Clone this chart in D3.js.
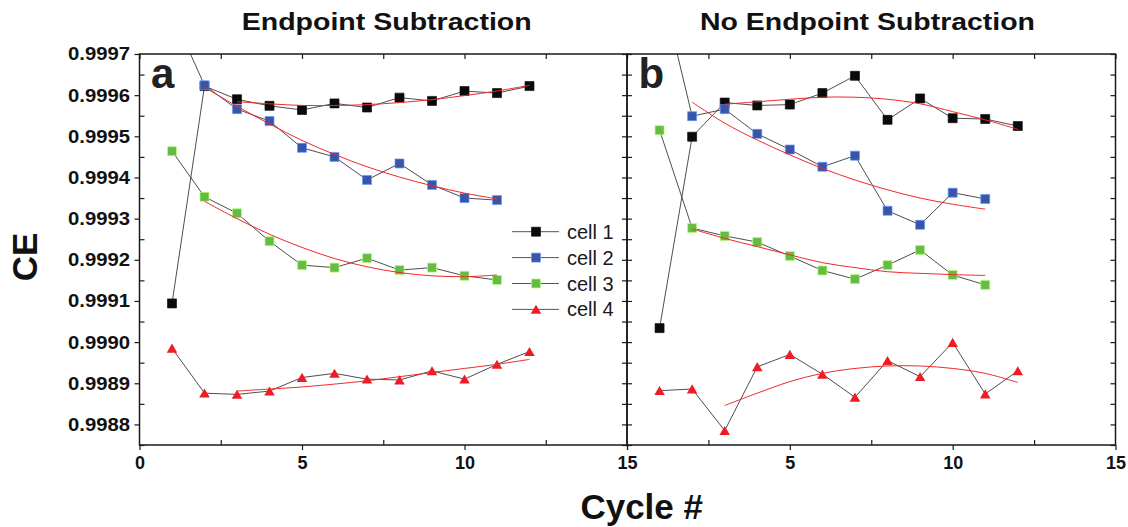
<!DOCTYPE html>
<html>
<head>
<meta charset="utf-8">
<script src="https://cdn.jsdelivr.net/npm/d3@7"></script>
<style>
  html, body { margin: 0; padding: 0; background: #fff; }
  svg { display: block; font-family: "Liberation Sans", Arial, Helvetica, sans-serif; }
</style>
</head>
<body>
<svg id="chart" width="1128" height="527"></svg>
<script>
// ---- data -------------------------------------------------------------
const cycles = [1, 2, 3, 4, 5, 6, 7, 8, 9, 10, 11, 12];
const seriesNames = ["cell 1", "cell 2", "cell 3", "cell 4"];
const panelTitles = ["Endpoint Subtraction", "No Endpoint Subtraction"];
const panelTags = ["a", "b"];
const xMajorTicks = [0, 5, 10, 15];
const xMinorTicks = [2.5, 7.5, 12.5];
const yMajorTicks = [0.9988, 0.9989, 0.9990, 0.9991, 0.9992, 0.9993, 0.9994, 0.9995, 0.9996, 0.9997];
const yMinorTicks = [0.99875, 0.99885, 0.99895, 0.99905, 0.99915, 0.99925, 0.99935, 0.99945, 0.99955, 0.99965];
const yTickLabels = ["0.9988", "0.9989", "0.9990", "0.9991", "0.9992", "0.9993", "0.9994", "0.9995", "0.9996", "0.9997"];

// CE per cycle, endpoint subtraction
const subCell1 = [0.999094, 0.999622, 0.999590, 0.999574, 0.999564, 0.999580, 0.999570, 0.999594, 0.999586, 0.999610, 0.999605, 0.999622];
const subCell2 = [0.999800, 0.999624, 0.999566, 0.999537, 0.999472, 0.999450, 0.999394, 0.999434, 0.999382, 0.999350, 0.999345];
const subCell3 = [0.999464, 0.999353, 0.999313, 0.999245, 0.999187, 0.999181, 0.999204, 0.999175, 0.999181, 0.999161, 0.999151];
const subCell4 = [0.998985, 0.998876, 0.998873, 0.998881, 0.998914, 0.998924, 0.998910, 0.998908, 0.998930, 0.998910, 0.998946, 0.998977];

// CE per cycle, no endpoint subtraction
const rawCell1 = [0.999034, 0.999499, 0.999582, 0.999575, 0.999577, 0.999605, 0.999647, 0.999540, 0.999592, 0.999544, 0.999542, 0.999525];
const rawCell2 = [0.999880, 0.999549, 0.999566, 0.999506, 0.999468, 0.999426, 0.999453, 0.999319, 0.999285, 0.999363, 0.999348];
const rawCell3 = [0.999515, 0.999277, 0.999258, 0.999243, 0.999209, 0.999174, 0.999153, 0.999187, 0.999224, 0.999163, 0.999139];
const rawCell4 = [0.998882, 0.998886, 0.998785, 0.998940, 0.998970, 0.998922, 0.998866, 0.998955, 0.998916, 0.998999, 0.998874, 0.998930];

// trend curves (cycle, CE)
const subFitCycles = [[3,4,5,6,7,8,9,10,11,12], [2,3,4,5,6,7,8,9,10,11], [2,3,4,5,6,7,8,9,10,11], [3,4,5,6,7,8,9,10,11,12]];
const subFit1 = [0.999584, 0.999579, 0.999575, 0.999575, 0.999577, 0.999582, 0.999589, 0.999599, 0.999610, 0.999624];
const subFit2 = [0.999619, 0.999573, 0.999530, 0.999490, 0.999456, 0.999426, 0.999401, 0.999380, 0.999362, 0.999348];
const subFit3 = [0.999342, 0.999300, 0.999262, 0.999230, 0.999203, 0.999183, 0.999169, 0.999161, 0.999159, 0.999163];
const subFit4 = [0.998881, 0.998886, 0.998891, 0.998898, 0.998906, 0.998916, 0.998926, 0.998936, 0.998946, 0.998958];

const rawFitCycles = [[3,4,5,6,7,8,9,10,11,12], [2,3,4,5,6,7,8,9,10,11], [2,3,4,5,6,7,8,9,10,11], [3,4,5,6,7,8,9,10,11,12]];
const rawFit1 = [0.999578, 0.999584, 0.999590, 0.999595, 0.999595, 0.999590, 0.999579, 0.999560, 0.999540, 0.999517];
const rawFit2 = [0.999583, 0.999532, 0.999491, 0.999455, 0.999422, 0.999394, 0.999370, 0.999350, 0.999335, 0.999323];
const rawFit3 = [0.999275, 0.999252, 0.999232, 0.999212, 0.999193, 0.999181, 0.999171, 0.999167, 0.999164, 0.999162];
const rawFit4 = [0.998846, 0.998876, 0.998904, 0.998924, 0.998936, 0.998942, 0.998942, 0.998936, 0.998924, 0.998902];

// ---- styling ----------------------------------------------------------
const markerFill = ["#0a0a0a", "#3a55a6", "#66bb45", "#ee1c24"];
const markerShape = ["square", "square", "square", "triangle"];
const axisColor = "#1a1a1a";
const fitColor = "#f0282a";
const linkColor = "#3a3a3a";

const svg = d3.select("#chart");
const plotTop = 54, plotBottom = 445;
const y = d3.scaleLinear().domain([0.99875, 0.9997]).range([plotBottom, plotTop]);

const panels = [
  { x0: 139.5, x1: 627, series: [subCell1, subCell2, subCell3, subCell4],
    fits: [subFit1, subFit2, subFit3, subFit4], fitX: subFitCycles, titleX: 386.7, titleLen: 290 },
  { x0: 627, x1: 1115.5, series: [rawCell1, rawCell2, rawCell3, rawCell4],
    fits: [rawFit1, rawFit2, rawFit3, rawFit4], fitX: rawFitCycles, titleX: 867.5, titleLen: 335 }
];

const squarePath = d3.symbol().type(d3.symbolSquare).size(81)();
const trianglePath = d3.symbol().type(d3.symbolTriangle).size(48)();

function drawMarker(g, shape, fill, cx, cy) {
  if (shape === "triangle") {
    g.append("path").attr("d", trianglePath)
      .attr("transform", `translate(${cx},${cy + 1.4})`)
      .attr("fill", fill);
  } else {
    g.append("path").attr("d", squarePath)
      .attr("transform", `translate(${cx},${cy})`)
      .attr("fill", fill)
      .attr("stroke", d3.color(fill).brighter(1.6).formatHex())
      .attr("stroke-width", 0.7);
  }
}

function styleAxis(g) {
  g.select(".domain").remove();
  g.selectAll(".tick line").attr("stroke", axisColor).attr("stroke-width", 1.2);
}

panels.forEach((p, pi) => {
  const x = d3.scaleLinear().domain([0, 15]).range([p.x0, p.x1]);
  const clipId = "clip" + pi;
  svg.append("clipPath").attr("id", clipId)
    .append("rect").attr("x", p.x0).attr("y", plotTop)
    .attr("width", p.x1 - p.x0).attr("height", plotBottom - plotTop);

  const plot = svg.append("g").attr("clip-path", `url(#${clipId})`);

  // connecting lines
  const link = d3.line().x((d, i) => x(cycles[i])).y(d => y(d));
  p.series.forEach(s => {
    plot.append("path").attr("d", link(s))
      .attr("fill", "none").attr("stroke", linkColor).attr("stroke-width", 0.9);
  });

  // markers
  p.series.forEach((s, si) => {
    const mg = plot.append("g");
    s.forEach((v, i) => drawMarker(mg, markerShape[si], markerFill[si], x(cycles[i]), y(v)));
  });

  // trend curves
  p.fits.forEach((f, fi) => {
    const xs = p.fitX[fi];
    const fitLine = d3.line().curve(d3.curveCatmullRom.alpha(0.5))
      .x((d, i) => x(xs[i])).y(d => y(d));
    plot.append("path").attr("d", fitLine(f))
      .attr("fill", "none").attr("stroke", fitColor).attr("stroke-width", 1);
  });

  // axes: bottom
  const bottomMajor = svg.append("g").attr("transform", `translate(0,${plotBottom})`)
    .call(d3.axisBottom(x).tickValues(xMajorTicks).tickSize(5).tickPadding(6.5)
      .tickFormat(d => (pi === 1 && d === 0) ? "" : d));
  styleAxis(bottomMajor);
  bottomMajor.selectAll("text").attr("font-size", 18).attr("font-weight", "bold")
    .attr("fill", "#111").attr("font-family", "Liberation Sans, Arial, sans-serif");
  const bottomMinor = svg.append("g").attr("transform", `translate(0,${plotBottom})`)
    .call(d3.axisBottom(x).tickValues(xMinorTicks).tickSize(-5).tickFormat(""));
  styleAxis(bottomMinor);

  // top
  const top = svg.append("g").attr("transform", `translate(0,${plotTop})`)
    .call(d3.axisTop(x).tickValues(xMajorTicks.concat(xMinorTicks)).tickSize(-5).tickFormat(""));
  styleAxis(top);

  // left
  if (pi === 0) {
    const leftMajor = svg.append("g").attr("transform", `translate(${p.x0},0)`)
      .call(d3.axisLeft(y).tickValues(yMajorTicks).tickSize(5).tickPadding(4.5)
        .tickFormat((d, i) => yTickLabels[i]));
    styleAxis(leftMajor);
    leftMajor.selectAll("text").attr("font-size", 18.6).attr("font-weight", "bold")
      .attr("fill", "#111").attr("font-family", "Liberation Sans, Arial, sans-serif")
      .attr("textLength", 62).attr("lengthAdjust", "spacingAndGlyphs");
    const leftMinor = svg.append("g").attr("transform", `translate(${p.x0},0)`)
      .call(d3.axisLeft(y).tickValues(yMinorTicks).tickSize(-5).tickFormat(""));
    styleAxis(leftMinor);
  } else {
    const leftIn = svg.append("g").attr("transform", `translate(${p.x0},0)`)
      .call(d3.axisLeft(y).tickValues(yMajorTicks.concat(yMinorTicks)).tickSize(-5).tickFormat(""));
    styleAxis(leftIn);
  }

  // right
  const right = svg.append("g").attr("transform", `translate(${p.x1},0)`)
    .call(d3.axisRight(y).tickValues(yMajorTicks.concat(yMinorTicks)).tickSize(-5).tickFormat(""));
  styleAxis(right);

  // frame
  svg.append("rect").attr("x", p.x0).attr("y", plotTop)
    .attr("width", p.x1 - p.x0).attr("height", plotBottom - plotTop)
    .attr("fill", "none").attr("stroke", axisColor).attr("stroke-width", 1.5);

  // title
  svg.append("text").attr("x", p.titleX).attr("y", 30)
    .attr("text-anchor", "middle").attr("font-size", 23).attr("font-weight", "bold")
    .attr("fill", "#111").attr("textLength", p.titleLen).attr("lengthAdjust", "spacingAndGlyphs")
    .text(panelTitles[pi]);

  // panel tag
  svg.append("text").attr("x", p.x0 + 11.5).attr("y", 88.3)
    .attr("font-size", 42).attr("font-weight", "bold").attr("fill", "#222")
    .text(panelTags[pi]);
});

// legend
const legendX = 512, legendY0 = 231.7, legendStep = 25.9;
seriesNames.forEach((name, i) => {
  const ly = legendY0 + i * legendStep;
  const g = svg.append("g");
  g.append("line").attr("x1", legendX).attr("x2", legendX + 47)
    .attr("y1", ly).attr("y2", ly).attr("stroke", "#555").attr("stroke-width", 1);
  drawMarker(g, markerShape[i], markerFill[i], legendX + 24, ly);
  g.append("text").attr("x", legendX + 55).attr("y", ly + 7)
    .attr("font-size", 20).attr("fill", "#1a1a1a").text(name);
});

// axis titles
svg.append("text").attr("transform", "translate(37,257) rotate(-90)")
  .attr("text-anchor", "middle").attr("font-size", 35).attr("font-weight", "bold")
  .attr("fill", "#111").text("CE");
svg.append("text").attr("x", 641.7).attr("y", 518.5)
  .attr("text-anchor", "middle").attr("font-size", 35).attr("font-weight", "bold")
  .attr("fill", "#111").text("Cycle #");
</script>
</body>
</html>
